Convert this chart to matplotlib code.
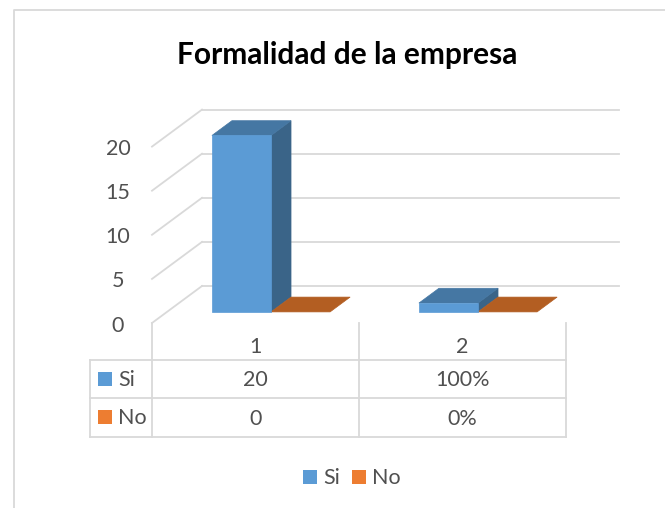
import matplotlib
matplotlib.use('Agg')
import matplotlib.pyplot as plt
from matplotlib.patches import Polygon, Rectangle

plt.rcParams['font.family'] = ['Lato', 'DejaVu Sans']

title = 'Formalidad de la empresa'
categories = ['1', '2']
series_names = ['Si', 'No']
si_values = [20, 1]
no_values = [0, 0]
si_labels = ['20', '100%']
no_labels = ['0', '0%']
y_ticks = [0, 5, 10, 15, 20]

W, H = 665, 508
GRAY = '#d9d9d9'
TXT = '#505050'
BLUE = '#5b9bd5'
ORANGE = '#ed7d31'

# chart area in pixels
X0, Y0 = 152, 323      # front corner of the floor
CAT_W = 207            # pixels per category
UNIT = 8.82            # pixels per value unit
X1, Y1 = 619, 108

fig = plt.figure(figsize=(W / 100, H / 100), dpi=100)

# overlay in pixels for the frame, table and text
pg = fig.add_axes([0, 0, 1, 1])
pg.set_xlim(0, W)
pg.set_ylim(H, 0)
pg.axis('off')

# plot axes: x in categories, y in values
ax = fig.add_axes([X0 / W, 1 - Y0 / H, (X1 - X0) / W, (Y0 - Y1) / H])
ax.set_xlim(0, (X1 - X0) / CAT_W)
ax.set_ylim(0, (Y0 - Y1) / UNIT)
ax.axis('off')
ax.patch.set_alpha(0)

# oblique depth: at depth 1 a point moves 50px right and 37px up
DX = 50 / CAT_W
DY = 37 / UNIT
BAR_W = 0.2855
GAP = 0.217


def proj(x, y, d):
    return (x + DX * d, y + DY * d)


def draw_bar(x, w, v, color, side, top):
    d0, d1 = 0.3, 0.7
    if v > 0:
        ax.add_patch(Polygon([proj(x + w, 0, d0), proj(x + w, 0, d1), proj(x + w, v, d1), proj(x + w, v, d0)],
                             fc=side, ec=side, lw=0.5, clip_on=False, zorder=3))
        ax.add_patch(Polygon([proj(x, 0, d0), proj(x + w, 0, d0), proj(x + w, v, d0), proj(x, v, d0)],
                             fc=color, ec=color, lw=0.5, clip_on=False, zorder=4))
    ax.add_patch(Polygon([proj(x, v, d0), proj(x + w, v, d0), proj(x + w, v, d1), proj(x, v, d1)],
                         fc=top, ec=top, lw=0.5, clip_on=False, zorder=3))


# walls
for t in y_ticks:
    ax.plot([0, DX], [t, t + DY], color=GRAY, lw=1.3, clip_on=False, zorder=1)
    ax.plot([DX, ax.get_xlim()[1]], [t + DY, t + DY], color=GRAY, lw=1.3, clip_on=False, zorder=1)

for i in range(len(categories)):
    x = i + GAP
    draw_bar(x, BAR_W, si_values[i], BLUE, '#3a6488', '#4577a3')
    draw_bar(x + BAR_W, BAR_W, no_values[i], ORANGE, '#b35e22', '#b35e22')

# y tick labels
for t in y_ticks:
    py = Y0 - t * UNIT
    pg.text(X0 - 34, py + 2.5, str(t), ha='center', va='center', fontsize=15.5, color=TXT)

# chart frame, only the left and top edges are in the picture
pg.plot([14, 14, W], [H, 10, 10], color=GRAY, lw=1.3)

# data table
col_x = [X0 + CAT_W * k for k in range(len(categories) + 1)]
row_y = [360, 398, 437]
for cx in col_x:
    pg.plot([cx, cx], [Y0, row_y[-1]], color=GRAY, lw=1.3)
pg.plot([90, 90], [row_y[0], row_y[-1]], color=GRAY, lw=1.3)
for ry in row_y:
    pg.plot([90, col_x[-1]], [ry, ry], color=GRAY, lw=1.3)

for i, c in enumerate(categories):
    cx = X0 + CAT_W * (i + 0.5)
    pg.text(cx, 347, c, ha='center', va='center', fontsize=15.5, color=TXT)
    pg.text(cx, 380, si_labels[i], ha='center', va='center', fontsize=15.5, color=TXT)
    pg.text(cx, 419, no_labels[i], ha='center', va='center', fontsize=15.5, color=TXT)

for name, color, ry in zip(series_names, [BLUE, ORANGE], [379, 417]):
    pg.add_patch(Rectangle((98, ry - 7), 14, 14, fc=color, ec='none'))
    pg.text(118, ry + 1, name, ha='left', va='center', fontsize=15.5, color=TXT)

# legend
for name, color, lx in zip(series_names, [BLUE, ORANGE], [303, 352]):
    pg.add_patch(Rectangle((lx, 470), 14, 14, fc=color, ec='none'))
    pg.text(lx + 20, 478, name, ha='left', va='center', fontsize=15.5, color=TXT)

pg.text(347, 55, title, ha='center', va='center', fontsize=21.5, fontweight='bold', color='black')

fig.savefig('out.png', dpi=100)
